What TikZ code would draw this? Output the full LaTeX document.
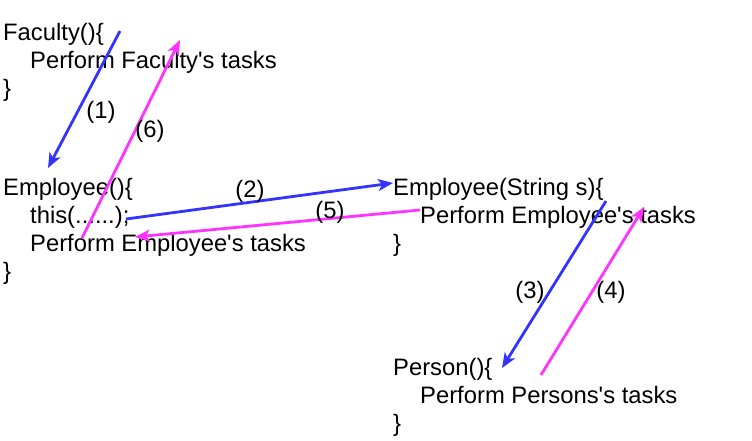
\documentclass[tikz,border=0pt]{standalone}
\usepackage{fontspec}
\setmainfont{Liberation Sans}
\usetikzlibrary{arrows.meta}
\definecolor{cblue}{HTML}{3333FF}
\definecolor{cmag}{HTML}{FF33FF}
\newcommand{\apo}{\textquotesingle}
\tikzset{
  codeline/.style={anchor=base west, inner sep=0pt, font=\fontsize{23.8}{28}\selectfont},
  numlabel/.style={inner sep=0pt, font=\fontsize{23.8}{28}\selectfont},
  callarrow/.style={draw=cblue, line width=2.8pt, -{Stealth[length=15pt,width=12pt,inset=4pt]}},
  retarrow/.style={draw=cmag, line width=2.8pt, -{Stealth[length=15pt,width=12pt,inset=4pt]}},
}
\begin{document}
\begin{tikzpicture}[x=1pt,y=-1pt]
\useasboundingbox (0,0) rectangle (752,441);
% Faculty block
\node[codeline] (f1) at (3,41) {Faculty()\{};
\node[codeline] (f2) at (30,69) {Perform Faculty\apo s tasks};
\node[codeline] (f3) at (3,97) {\}};
% Employee() block
\node[codeline] (e1) at (3,195) {Employee()\{};
\node[codeline] (e2) at (30,223) {this(......);};
\node[codeline] (e3) at (30,251) {Perform Employee\apo s tasks};
\node[codeline] (e4) at (3,279) {\}};
% Employee(String s) block
\node[codeline] (s1) at (393,195) {Employee(String s)\{};
\node[codeline] (s2) at (420,223) {Perform Employee\apo s tasks};
\node[codeline] (s3) at (393,251) {\}};
% Person block
\node[codeline] (p1) at (393,375) {Person()\{};
\node[codeline] (p2) at (420,403) {Perform Persons\apo s tasks};
\node[codeline] (p3) at (393,431) {\}};
% connector end points
\coordinate (a1s) at (120,31);
\coordinate (a1e) at (48,168);
\coordinate (a6s) at (82,238);
\coordinate (a6e) at (180,40);
\coordinate (a2s) at (126,219);
\coordinate (a2e) at (393,183);
\coordinate (a5s) at (420,210);
\coordinate (a5e) at (135,237);
\coordinate (a3s) at (606,201);
\coordinate (a3e) at (502,368);
\coordinate (a4s) at (541,375);
\coordinate (a4e) at (644,207);
\draw[callarrow] (a1s) -- (a1e);
\draw[retarrow] (a6s) -- (a6e);
\draw[callarrow] (a2s) -- (a2e);
\draw[retarrow] (a5s) -- (a5e);
\draw[callarrow] (a3s) -- (a3e);
\draw[retarrow] (a4s) -- (a4e);
% labels
\node[numlabel] (l1) at (101,112) {(1)};
\node[numlabel] (l6) at (150,131) {(6)};
\node[numlabel] (l2) at (250,191) {(2)};
\node[numlabel] (l5) at (330,212) {(5)};
\node[numlabel] (l3) at (530,292) {(3)};
\node[numlabel] (l4) at (611,292) {(4)};
\end{tikzpicture}
\end{document}
